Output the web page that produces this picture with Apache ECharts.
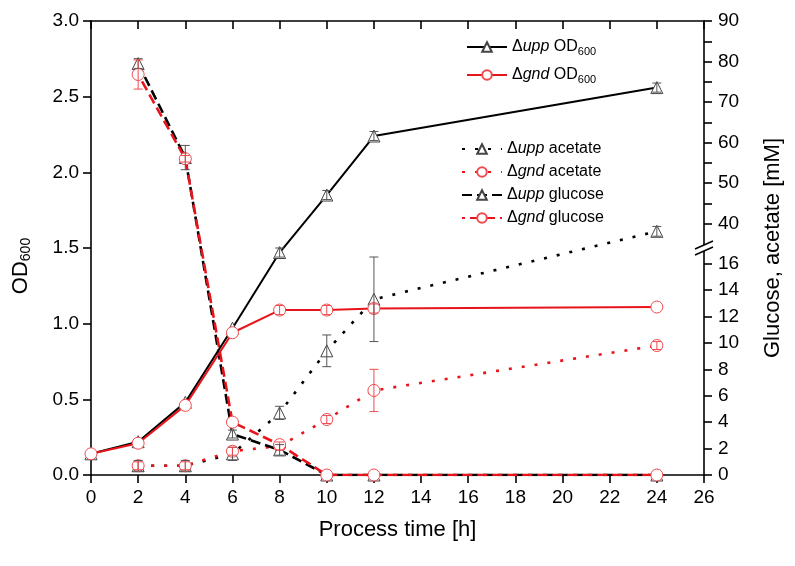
<!DOCTYPE html>
<html lang="en">
<head>
<meta charset="UTF-8">
<title>OD600, glucose and acetate</title>
<script src="https://cdn.jsdelivr.net/npm/echarts@6/dist/echarts.min.js"></script>
<style>
  html, body { margin: 0; padding: 0; background: #fff; }
  #main { width: 795px; height: 566px; }
</style>
</head>
<body>
<div id="main"></div>
<script>
// process time [h]
var time = [0, 2, 4, 6, 8, 10, 12, 24];
var timeSub = [2, 4, 6, 8, 10, 12, 24];

// OD600, left axis
var uppOD = [0.14, 0.22, 0.48, 0.97, 1.47, 1.85, 2.24, 2.56];
var uppODErr = [0, 0, 0, 0, 0.03, 0.03, 0.03, 0.03];
var gndOD = [0.14, 0.21, 0.46, 0.94, 1.09, 1.09, 1.10, 1.11];
var gndODErr = [0, 0, 0, 0, 0.03, 0.03, 0.03, 0];

// acetate / glucose [mM], right axis (from 2 h on)
var uppAcetate = [0.7, 0.7, 1.6, 4.7, 9.4, 13.3, 38.1];
var uppAcetateErr = [0.4, 0.4, 0.5, 0.5, 1.2, 3.2, 1.2];
var gndAcetate = [0.7, 0.7, 1.8, 2.2, 4.2, 6.4, 9.8];
var gndAcetateErr = [0.3, 0.3, 0.3, 0.3, 0.3, 1.6, 0.3];
var uppGlucose = [79.5, 56.3, 3.1, 1.9, 0, 0, 0];
var uppGlucoseErr = [1.2, 3.0, 0.3, 0.4, 0, 0, 0];
var gndGlucose = [76.8, 56.0, 4.0, 2.3, 0, 0, 0];
var gndGlucoseErr = [3.6, 0.8, 0, 0, 0, 0, 0];

// tick labels
var lowTicks = [0, 2, 4, 6, 8, 10, 12, 14, 16];
var highTicks = [40, 50, 60, 70, 80, 90];
var highMinor = [45, 55, 65, 75, 85];

var BLACK = '#000';
var RED = '#e8141b';
var FONT = 'Liberation Sans, Arial, sans-serif';

// right axis is broken: 0-16 mM on the lower part, 40-90 mM on the upper part
// (axis itself runs 0..1, these map mM onto it)
var LOW_FRAC = 0.4656, HIGH_FRAC = 0.5537;
function brk(v) {
    if (v <= 25) return v / 16 * LOW_FRAC;
    return HIGH_FRAC + (v - 40) / 50 * (1 - HIGH_FRAC);
}
function unbrk(d) {
    if (d <= 0.5) return d / LOW_FRAC * 16;
    return 40 + (d - HIGH_FRAC) / (1 - HIGH_FRAC) * 50;
}
function ident(v) { return v; }

function pairs(xs, ys, map) {
    return xs.map(function (x, i) { return [x, map(ys[i])]; });
}

function errSeries(xs, ys, es, yAxisIndex, color, map) {
    var data = [];
    xs.forEach(function (x, i) {
        if (es[i] > 0) data.push([x, map(ys[i] - es[i]), map(ys[i] + es[i])]);
    });
    return {
        type: 'custom',
        yAxisIndex: yAxisIndex,
        z: 5,
        silent: true,
        encode: {x: 0, y: [1, 2]},
        renderItem: function (params, api) {
            var lo = api.coord([api.value(0), api.value(1)]);
            var hi = api.coord([api.value(0), api.value(2)]);
            var w = 4.5;
            var st = {stroke: color, lineWidth: 1};
            return {
                type: 'group',
                children: [
                    {type: 'line', shape: {x1: lo[0], y1: lo[1], x2: hi[0], y2: hi[1]}, style: st},
                    {type: 'line', shape: {x1: lo[0] - w, y1: lo[1], x2: lo[0] + w, y2: lo[1]}, style: st},
                    {type: 'line', shape: {x1: hi[0] - w, y1: hi[1], x2: hi[0] + w, y2: hi[1]}, style: st}
                ]
            };
        },
        data: data
    };
}

function lineSeries(name, data, yAxisIndex, color, symbol, type, z) {
    return {
        name: name,
        type: 'line',
        yAxisIndex: yAxisIndex,
        data: data,
        z: z,
        symbol: symbol,
        symbolSize: 12,
        showAllSymbol: true,
        lineStyle: {color: color, width: type === 'solid' ? 2 : 2.6, type: type.dash || type, dashOffset: type.offset || 0},
        itemStyle: {color: '#fff', borderColor: symbol === 'triangle' ? '#444' : '#f04a4f', borderWidth: 1},
        emphasis: {disabled: true},
        animation: false
    };
}

var richText = {
    n: {fontSize: 16, fontFamily: FONT, color: '#000'},
    i: {fontSize: 16, fontFamily: FONT, fontStyle: 'italic', color: '#000'},
    s: {fontSize: 11, fontFamily: FONT, color: '#000', padding: [9, 0, 0, 0]}
};
var legendLabel = {
    'upp OD': '{n|Δ}{i|upp}{n| OD}{s|600}',
    'gnd OD': '{n|Δ}{i|gnd}{n| OD}{s|600}',
    'upp acetate': '{n|Δ}{i|upp}{n| acetate}',
    'gnd acetate': '{n|Δ}{i|gnd}{n| acetate}',
    'upp glucose': '{n|Δ}{i|upp}{n| glucose}',
    'gnd glucose': '{n|Δ}{i|gnd}{n| glucose}'
};
function legendFmt(name) { return legendLabel[name]; }

var axisLine = {show: true, onZero: false, lineStyle: {color: '#000', width: 1.6}};
var tickFont = {fontSize: 19, fontFamily: FONT, color: '#000'};

var chart = echarts.init(document.getElementById('main'));
var option = {
    backgroundColor: '#fff',
    animation: false,
    grid: {left: 91, right: 91, top: 21, bottom: 91},
    legend: [{
        data: ['upp OD', 'gnd OD'],
        orient: 'vertical', left: 461, top: 34,
        itemWidth: 40, itemHeight: 12, itemGap: 10,
        formatter: legendFmt,
        textStyle: {rich: richText}
    }, {
        data: ['upp acetate', 'gnd acetate', 'upp glucose', 'gnd glucose'],
        orient: 'vertical', left: 456, top: 136,
        itemWidth: 40, itemHeight: 12, itemGap: 7,
        formatter: legendFmt,
        textStyle: {rich: richText}
    }],
    xAxis: [{
        type: 'value', min: 0, max: 26, interval: 2,
        axisLine: axisLine,
        axisTick: {length: 8, lineStyle: {color: '#000', width: 1.6}},
        axisLabel: Object.assign({margin: 13}, tickFont),
        splitLine: {show: false},
        name: 'Process time [h]', nameLocation: 'middle', nameGap: 44,
        nameTextStyle: {fontSize: 22, fontFamily: FONT, color: '#000'}
    }, {
        type: 'value', min: 0, max: 26, interval: 2, position: 'top',
        axisLine: axisLine,
        axisTick: {inside: true, length: 8, lineStyle: {color: '#000', width: 1.6}},
        axisLabel: {show: false},
        splitLine: {show: false}
    }],
    yAxis: [{
        type: 'value', min: 0, max: 3, interval: 0.5,
        axisLine: axisLine,
        axisTick: {length: 8, lineStyle: {color: '#000', width: 1.6}},
        axisLabel: Object.assign({margin: 12, formatter: function (v) { return v.toFixed(1); }}, tickFont),
        splitLine: {show: false},
        name: '{a|OD}{s|600}', nameLocation: 'middle', nameGap: 58, nameRotate: 90,
        nameTextStyle: {
            padding: [0, 36, 0, 0],
            rich: {
                a: {fontSize: 22, fontFamily: FONT, color: '#000'},
                s: {fontSize: 14, fontFamily: FONT, color: '#000', padding: [11, 0, 0, 0]}
            }
        }
    }, {
        type: 'value', min: 0, max: 1, position: 'right',
        axisLine: axisLine,
        axisTick: {length: 8, lineStyle: {color: '#000', width: 1.6},
            customValues: lowTicks.concat(highTicks, highMinor).map(brk)},
        axisLabel: Object.assign({margin: 14,
            customValues: lowTicks.concat(highTicks).map(brk),
            formatter: function (v) { return String(Math.round(unbrk(v))); }}, tickFont),
        splitLine: {show: false},
        name: 'Glucose, acetate [mM]', nameLocation: 'middle', nameGap: 58, nameRotate: 90,
        nameTextStyle: {fontSize: 22, fontFamily: FONT, color: '#000'}
    }],
    series: [
        lineSeries('upp acetate', pairs(timeSub, uppAcetate, brk), 1, BLACK, 'triangle', {dash: [3, 10]}, 2),
        lineSeries('gnd acetate', pairs(timeSub, gndAcetate, brk), 1, RED, 'circle', {dash: [3, 10]}, 2),
        lineSeries('upp glucose', pairs(timeSub, uppGlucose, brk), 1, BLACK, 'triangle', {dash: [10, 5]}, 2),
        lineSeries('gnd glucose', pairs(timeSub, gndGlucose, brk), 1, RED, 'circle', {dash: [10, 5], offset: 7}, 3),
        lineSeries('upp OD', pairs(time, uppOD, ident), 0, BLACK, 'triangle', 'solid', 3),
        lineSeries('gnd OD', pairs(time, gndOD, ident), 0, RED, 'circle', 'solid', 4),
        errSeries(time, uppOD, uppODErr, 0, '#555', ident),
        errSeries(time, gndOD, gndODErr, 0, '#ee4a50', ident),
        errSeries(timeSub, uppAcetate, uppAcetateErr, 1, '#555', brk),
        errSeries(timeSub, gndAcetate, gndAcetateErr, 1, '#ee4a50', brk),
        errSeries(timeSub, uppGlucose, uppGlucoseErr, 1, '#555', brk),
        errSeries(timeSub, gndGlucose, gndGlucoseErr, 1, '#ee4a50', brk)
    ]
};
chart.setOption(option);

// break marks on the right axis
var bx = chart.convertToPixel({xAxisIndex: 0}, 26);
var by = chart.convertToPixel({yAxisIndex: 1}, 0.5);
chart.setOption({
    graphic: [
        {type: 'polygon', z: 100, shape: {points: [[bx - 9, by + 1], [bx + 9, by - 7], [bx + 9, by - 1], [bx - 9, by + 7]]},
            style: {fill: '#fff'}},
        {type: 'line', z: 101, shape: {x1: bx - 9, y1: by + 1, x2: bx + 9, y2: by - 7}, style: {stroke: '#000', lineWidth: 1.5}},
        {type: 'line', z: 101, shape: {x1: bx - 9, y1: by + 7, x2: bx + 9, y2: by - 1}, style: {stroke: '#000', lineWidth: 1.5}}
    ]
});
</script>
</body>
</html>
